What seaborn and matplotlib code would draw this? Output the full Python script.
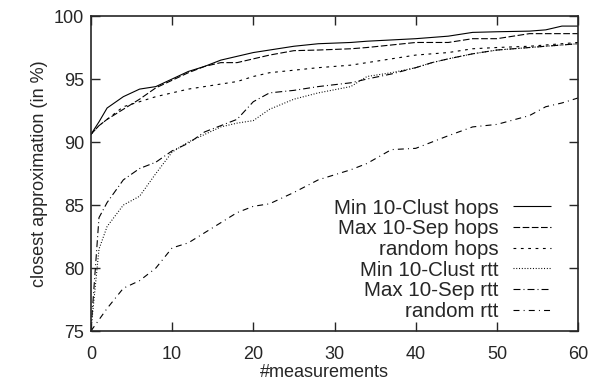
import matplotlib
matplotlib.use('Agg')
import matplotlib.pyplot as plt
import seaborn as sns
import pandas as pd

# measurement counts (x grid)
measurements = [0, 1, 2, 4, 6, 8, 10, 12, 14, 16, 18, 20, 22, 25, 28, 32,
                34, 37, 40, 42, 44, 47, 50, 54, 56, 58, 60]

# closest approximation (in %) per strategy
min_clust_hops = [90.6, 91.6, 92.7, 93.6, 94.2, 94.4, 95.0, 95.6, 96.0, 96.5, 96.8, 97.1, 97.3, 97.6,
                  97.8, 97.9, 98.0, 98.1, 98.2, 98.3, 98.4, 98.7, 98.75, 98.8, 98.9, 99.2, 99.2]
max_sep_hops = [90.6, 91.3, 91.8, 92.6, 93.4, 94.3, 94.9, 95.5, 96.0, 96.3, 96.3, 96.6, 96.9, 97.25,
                97.3, 97.4, 97.5, 97.7, 97.9, 97.9, 97.9, 98.2, 98.2, 98.6, 98.6, 98.6, 98.6]
random_hops = [90.6, 91.3, 91.8, 92.8, 93.2, 93.6, 93.9, 94.2, 94.4, 94.6, 94.8, 95.2, 95.5, 95.7,
               95.9, 96.1, 96.3, 96.6, 96.9, 97.0, 97.1, 97.4, 97.5, 97.6, 97.7, 97.8, 97.9]
min_clust_rtt = [75.0, 81.5, 83.3, 85.0, 85.7, 87.5, 89.2, 90.0, 90.6, 91.2, 91.5, 91.7, 92.6, 93.4,
                 93.9, 94.4, 95.2, 95.5, 95.9, 96.3, 96.6, 97.0, 97.3, 97.5, 97.6, 97.7, 97.8]
max_sep_rtt = [75.0, 84.0, 85.2, 87.0, 87.9, 88.4, 89.3, 89.9, 90.8, 91.3, 91.8, 93.2, 93.9, 94.1,
               94.4, 94.7, 95.0, 95.4, 95.9, 96.3, 96.6, 97.0, 97.3, 97.5, 97.6, 97.7, 97.8]
random_rtt = [75.0, 75.9, 76.8, 78.4, 79.0, 80.0, 81.6, 82.0, 82.8, 83.6, 84.4, 84.9, 85.1, 86.0,
              87.0, 87.8, 88.3, 89.4, 89.5, 90.0, 90.5, 91.2, 91.4, 92.1, 92.8, 93.1, 93.5]

labels = ['Min 10-Clust hops', 'Max 10-Sep hops', 'random hops',
          'Min 10-Clust rtt', 'Max 10-Sep rtt', 'random rtt']
series = [min_clust_hops, max_sep_hops, random_hops, min_clust_rtt, max_sep_rtt, random_rtt]

# gnuplot-like dash patterns (in points)
dash_styles = [(1, 0), (4.8, 1.8), (2.0, 3.3), (0.7, 1.3), (5.0, 2.2, 0.7, 2.2), (4.3, 3.0, 0.7, 3.0)]

rows = []
for lab, vals in zip(labels, series):
    for m, v in zip(measurements, vals):
        rows.append({'measurements': m, 'approx': v, 'strategy': lab})
df = pd.DataFrame(rows)

sns.set_style('ticks')
plt.rcParams['font.family'] = ['Liberation Sans', 'DejaVu Sans']
plt.rcParams['lines.scale_dashes'] = False

fig = plt.figure(figsize=(5.9, 3.81), dpi=100)
ax = fig.add_axes([0.154, 0.131, 0.826, 0.827])

sns.lineplot(data=df, x='measurements', y='approx', hue='strategy', style='strategy',
             hue_order=labels, style_order=labels,
             palette=['black'] * 6, dashes=dash_styles, linewidth=0.8, ax=ax)

ax.set_xlim(0, 60)
ax.set_ylim(75, 100)
ax.set_xticks(range(0, 61, 10))
ax.set_yticks(range(75, 101, 5))
ax.set_xlabel('#measurements', fontsize=13)
ax.set_ylabel('closest approximation (in %)', fontsize=13, labelpad=4)
ax.xaxis.set_label_coords(0.48, -0.105)
ax.tick_params(direction='in', length=6.5, width=1, labelsize=13, top=True, right=True)
ax.tick_params(axis='x', pad=11)
ax.tick_params(axis='y', pad=5)
for s in ax.spines.values():
    s.set_linewidth(1.2)
    s.set_visible(True)

ax.legend(loc='lower right', frameon=False, markerfirst=False, fontsize=14.8,
          handlelength=1.85, handletextpad=0.68, labelspacing=0.08,
          borderaxespad=0.1, bbox_to_anchor=(0.965, 0.0))

plt.savefig('out.png', dpi=100)
